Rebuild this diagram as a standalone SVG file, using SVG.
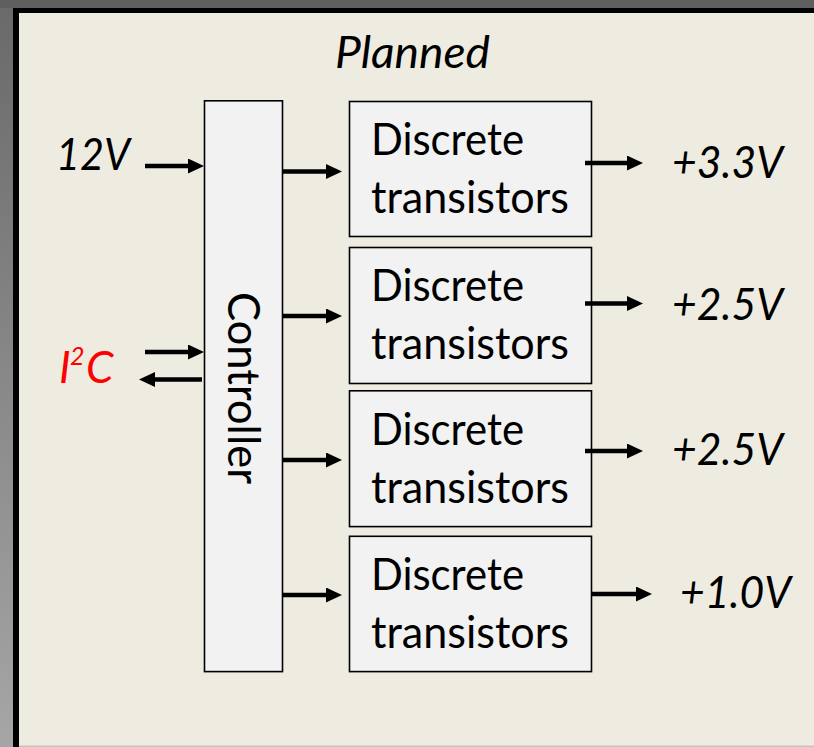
<svg xmlns="http://www.w3.org/2000/svg" width="814" height="747" viewBox="0 0 814 747">
  <defs>
    <linearGradient id="leftEdge" x1="0" y1="0" x2="0" y2="1">
      <stop offset="0" stop-color="#6a6a6a"/>
      <stop offset="1" stop-color="#a6a6a6"/>
    </linearGradient>
    <marker id="arrow" markerUnits="userSpaceOnUse" markerWidth="17" markerHeight="16" refX="4" refY="7.5" orient="auto">
      <path d="M0,0 L16,7.5 L0,15 Z" fill="#000"/>
    </marker>
    <style>
      .box { fill: #f2f2f2; stroke: #000; stroke-width: 1.6; }
      .lbl { font-family: Lato, "Open Sans", sans-serif; font-size: 44px; fill: #000; }
      .ital { font-style: italic; }
      .conn { stroke: #000; stroke-width: 4.5; fill: none; marker-end: url(#arrow); }
    </style>
  </defs>

  <!-- background frame -->
  <rect x="0" y="0" width="814" height="747" fill="#5f5f5f"/>
  <rect x="0" y="8" width="13" height="739" fill="url(#leftEdge)"/>
  <rect x="13" y="8" width="801" height="739" fill="#000"/>
  <rect x="19" y="13" width="795" height="734" fill="#c4c4c0"/>
  <rect x="19" y="13" width="795" height="732.5" fill="#eeece1"/>

  <text class="lbl ital" x="335" y="68" textLength="155" lengthAdjust="spacingAndGlyphs">Planned</text>

  <g id="controller">
    <rect class="box" x="204.5" y="100.8" width="78" height="570.8"/>
    <text class="lbl" x="0" y="0" text-anchor="middle" transform="translate(228,388) rotate(90)" textLength="192" lengthAdjust="spacingAndGlyphs">Controller</text>
  </g>

  <g id="box1">
    <rect class="box" x="349.5" y="101.5" width="242" height="135"/>
    <text class="lbl" x="371" y="155" textLength="153" lengthAdjust="spacingAndGlyphs">Discrete</text>
    <text class="lbl" x="371" y="213" textLength="198" lengthAdjust="spacingAndGlyphs">transistors</text>
  </g>
  <g id="box2">
    <rect class="box" x="349.5" y="247.5" width="242" height="136"/>
    <text class="lbl" x="371" y="301" textLength="153" lengthAdjust="spacingAndGlyphs">Discrete</text>
    <text class="lbl" x="371" y="359" textLength="198" lengthAdjust="spacingAndGlyphs">transistors</text>
  </g>
  <g id="box3">
    <rect class="box" x="349.5" y="390.8" width="242" height="135.8"/>
    <text class="lbl" x="371" y="445" textLength="153" lengthAdjust="spacingAndGlyphs">Discrete</text>
    <text class="lbl" x="371" y="503" textLength="198" lengthAdjust="spacingAndGlyphs">transistors</text>
  </g>
  <g id="box4">
    <rect class="box" x="349.5" y="536.3" width="242" height="135.3"/>
    <text class="lbl" x="371" y="590" textLength="153" lengthAdjust="spacingAndGlyphs">Discrete</text>
    <text class="lbl" x="371" y="648" textLength="198" lengthAdjust="spacingAndGlyphs">transistors</text>
  </g>

  <g id="in-12v">
    <text class="lbl ital" x="56" y="170" textLength="74" lengthAdjust="spacingAndGlyphs">12V</text>
  </g>
  <g id="in-i2c">
    <text class="lbl ital" y="383" style="fill:#ff0000"><tspan x="59">I</tspan><tspan x="70" y="365" font-size="25">2</tspan><tspan x="86" y="383">C</tspan></text>
  </g>

  <g id="out-33">
    <text class="lbl ital" x="672" y="178" textLength="111" lengthAdjust="spacingAndGlyphs">+3.3V</text>
  </g>
  <g id="out-25a">
    <text class="lbl ital" x="672" y="320" textLength="111" lengthAdjust="spacingAndGlyphs">+2.5V</text>
  </g>
  <g id="out-25b">
    <text class="lbl ital" x="672" y="465" textLength="111" lengthAdjust="spacingAndGlyphs">+2.5V</text>
  </g>
  <g id="out-10">
    <text class="lbl ital" x="680" y="608" textLength="111" lengthAdjust="spacingAndGlyphs">+1.0V</text>
  </g>

  <g id="connectors">
    <line class="conn" x1="145" y1="166" x2="192" y2="166"/>
    <line class="conn" x1="145" y1="352" x2="192" y2="352"/>
    <line class="conn" x1="202" y1="379.5" x2="151" y2="379.5"/>
    <line class="conn" x1="283" y1="171.5" x2="330" y2="171.5"/>
    <line class="conn" x1="283" y1="316" x2="330" y2="316"/>
    <line class="conn" x1="283" y1="460" x2="330" y2="460"/>
    <line class="conn" x1="283" y1="595" x2="330" y2="595"/>
    <line class="conn" x1="585" y1="163" x2="631" y2="163"/>
    <line class="conn" x1="585" y1="303.5" x2="631" y2="303.5"/>
    <line class="conn" x1="585" y1="451" x2="631" y2="451"/>
    <line class="conn" x1="591" y1="594" x2="640" y2="594"/>
  </g>
</svg>
